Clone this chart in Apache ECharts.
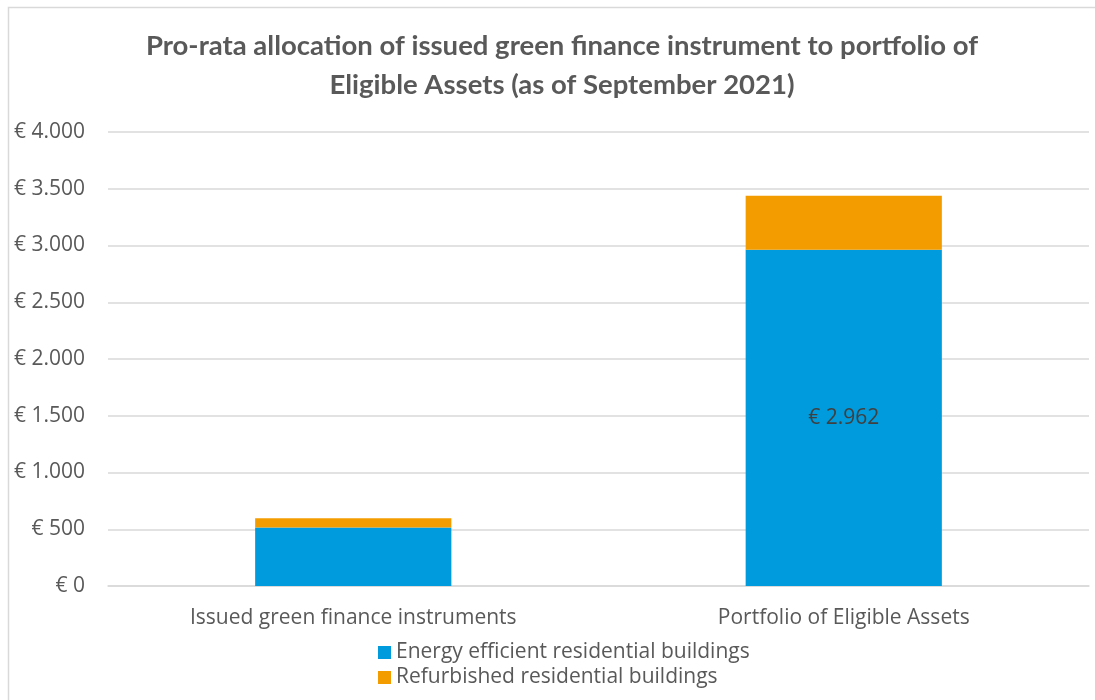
<!DOCTYPE html>
<html>
<head>
    <meta charset="utf-8">
    <title>Pro-rata allocation</title>
    <script src="https://cdn.jsdelivr.net/npm/echarts@6/dist/echarts.min.js"></script>
    <style>
        html, body { margin: 0; padding: 0; background: #fff; }
        #main { width: 1095px; height: 700px; }
    </style>
</head>
<body>
<div id="main"></div>
<script type="text/javascript">
    // data
    var categories = ['Issued green finance instruments', 'Portfolio of Eligible Assets'];
    var energyEfficient = [515, 2962];
    var refurbished = [82, 477];
    var seriesNames = ['Energy efficient residential buildings', 'Refurbished residential buildings'];

    var fontFam = '"Open Sans", sans-serif';
    var titleFam = 'Lato, sans-serif';

    function euro(v) {
        return '€ ' + String(v).replace(/\B(?=(\d{3})+(?!\d))/g, '.');
    }

    var myChart = echarts.init(document.getElementById('main'));

    // only the blue bar of the portfolio has a label
    var blueData = energyEfficient.map(function (v, i) {
        return {
            value: v,
            label: { show: i === 1 }
        };
    });

    var option = {
        animation: false,
        textStyle: { fontFamily: fontFam },
        title: {
            text: 'Pro-rata allocation of issued green finance instrument to portfolio of\nEligible Assets (as of September 2021)',
            left: 557,
            textAlign: 'center',
            top: 22,
            textStyle: {
                fontFamily: titleFam,
                fontSize: 27.5,
                fontWeight: 'bold',
                color: '#595959',
                lineHeight: 39
            }
        },
        graphic: [{
            type: 'rect',
            shape: { x: 8.5, y: 7.5, width: 1200, height: 800 },
            style: { fill: 'none', stroke: '#d9d9d9', lineWidth: 1.5 },
            silent: true
        }],
        legend: {
            orient: 'vertical',
            left: 373,
            top: 637,
            itemWidth: 13,
            itemHeight: 13,
            itemGap: 4,
            icon: 'rect',
            textStyle: { fontFamily: fontFam, fontSize: 21, color: '#595959' },
            data: seriesNames
        },
        grid: {
            left: 108,
            right: 6,
            top: 132,
            bottom: 114,
            containLabel: false
        },
        xAxis: {
            type: 'category',
            data: categories,
            axisLine: { lineStyle: { color: '#d9d9d9', width: 1.5 } },
            axisTick: { show: false },
            axisLabel: { fontFamily: fontFam, fontSize: 21, color: '#595959', margin: 22 }
        },
        yAxis: {
            type: 'value',
            min: 0,
            max: 4000,
            interval: 500,
            axisLine: { show: false },
            axisTick: { show: false },
            splitLine: { lineStyle: { color: '#d9d9d9', width: 1.5 } },
            axisLabel: {
                fontFamily: fontFam,
                fontSize: 21,
                color: '#595959',
                margin: 23,
                formatter: euro
            }
        },
        series: [{
            name: seriesNames[0],
            type: 'bar',
            stack: 'total',
            barWidth: '40%',
            itemStyle: { color: '#009bdc' },
            label: {
                position: 'inside',
                fontFamily: fontFam,
                fontSize: 21,
                color: '#404040',
                formatter: function (p) { return euro(p.value); }
            },
            data: blueData
        }, {
            name: seriesNames[1],
            type: 'bar',
            stack: 'total',
            barWidth: '40%',
            itemStyle: { color: '#f39c00' },
            data: refurbished
        }]
    };

    myChart.setOption(option);
</script>
</body>
</html>
